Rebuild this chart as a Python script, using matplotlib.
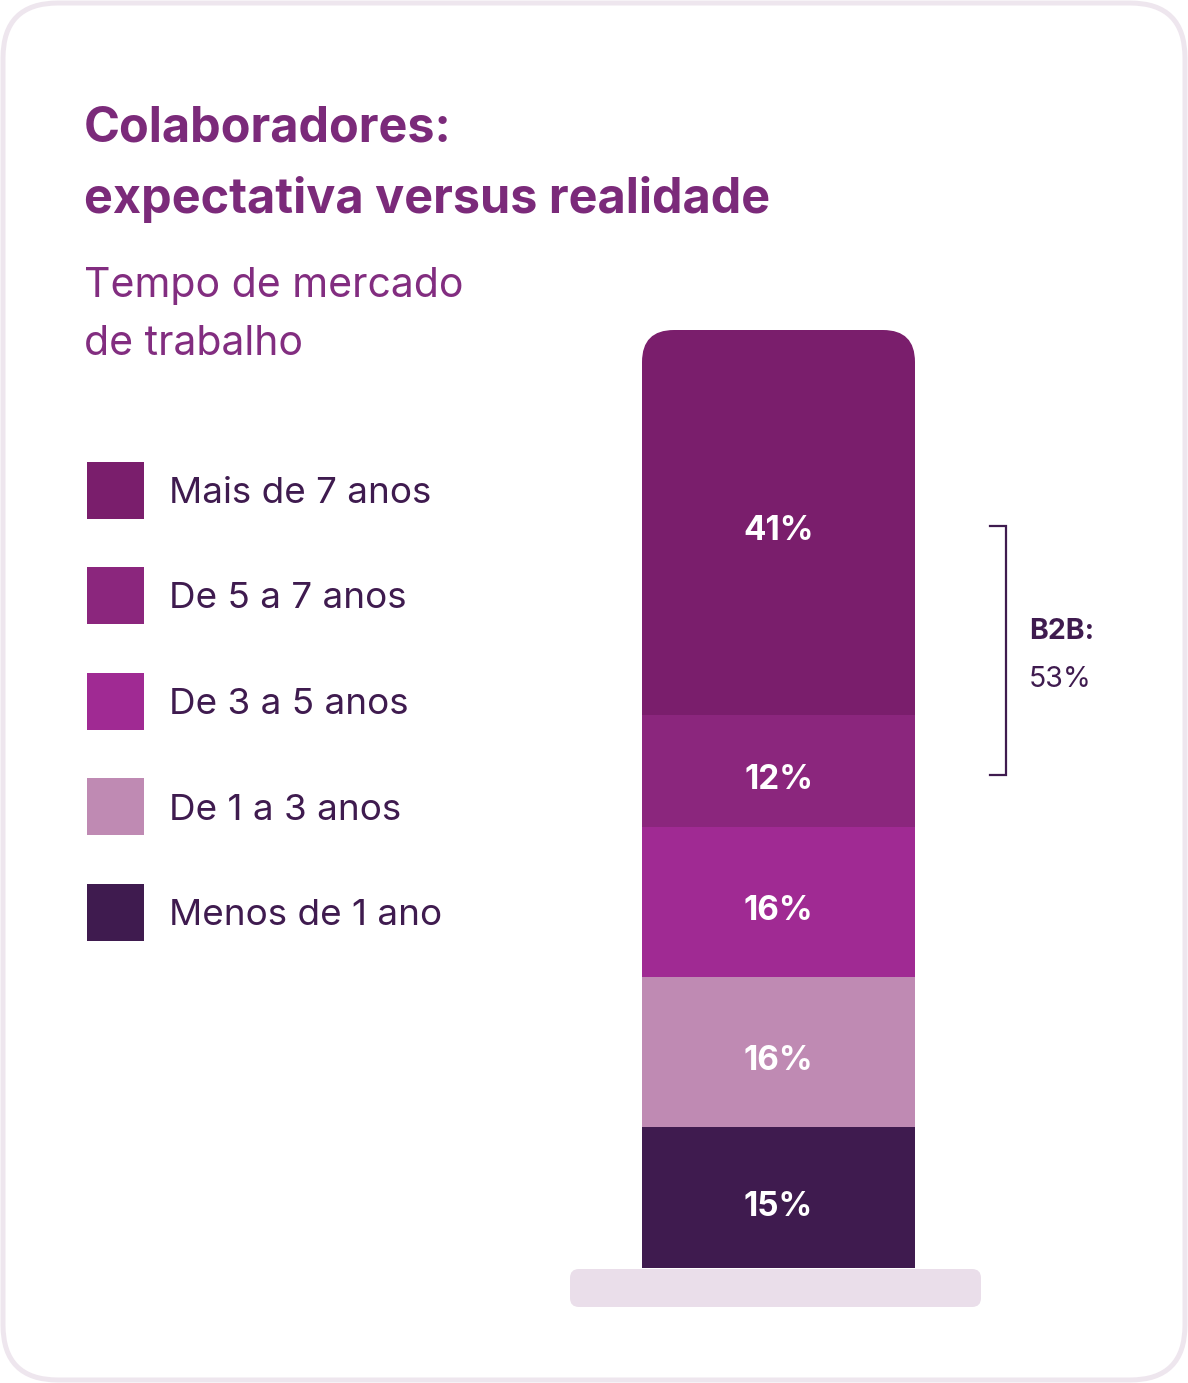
import matplotlib.pyplot as plt
import matplotlib.transforms as mtransforms
from matplotlib.patches import FancyBboxPatch, Rectangle

plt.rcParams['font.family'] = ['Inter', 'DejaVu Sans']

# dados
categorias = ["Menos de 1 ano", "De 1 a 3 anos", "De 3 a 5 anos", "De 5 a 7 anos", "Mais de 7 anos"]
valores = [15, 16, 16, 12, 41]
cores = ["#3F1B4F", "#BF8AB3", "#A02A93", "#8B267D", "#7A1E6C"]
b2b_categorias = ["De 5 a 7 anos", "Mais de 7 anos"]

titulo = ["Colaboradores:", "expectativa versus realidade"]
subtitulo = ["Tempo de mercado", "de trabalho"]

W, H = 1188, 1383
fig = plt.figure(figsize=(W / 100, H / 100), dpi=100)

# fundo em coordenadas de pixel
bg = fig.add_axes([0, 0, 1, 1])
bg.set_xlim(0, W)
bg.set_ylim(H, 0)
bg.axis("off")

card = FancyBboxPatch((3, 3), W - 6, H - 6, boxstyle="round,pad=0,rounding_size=55",
                      fc="white", ec="#EEE6EE", lw=3.6)
bg.add_patch(card)

# titulo e subtitulo
bg.text(84, 141, titulo[0], fontsize=35, fontweight="bold", color="#7B2A7A", va="baseline")
bg.text(84, 213, titulo[1], fontsize=35, fontweight="bold", color="#7B2A7A", va="baseline")
bg.text(84, 297, subtitulo[0], fontsize=29.5, color="#822D80", va="baseline")
bg.text(84, 355, subtitulo[1], fontsize=29.5, color="#822D80", va="baseline")

# legenda (de cima para baixo)
for i, (cat, cor) in enumerate(zip(categorias[::-1], cores[::-1])):
    yc = 490 + i * 105.5
    bg.add_patch(Rectangle((87, yc - 28.5), 57, 57, fc=cor, ec="none"))
    bg.text(169, yc + 13, cat, fontsize=26.5, color="#3F1B4F", va="baseline")

# base da barra
bg.add_patch(FancyBboxPatch((570, 1269), 411, 38, boxstyle="round,pad=0,rounding_size=9",
                            fc="#EADEEA", ec="none"))

# barra empilhada
bx0, bx1, btop, bbot = 642, 915, 330, 1268
ax = fig.add_axes([bx0 / W, (H - bbot) / H, (bx1 - bx0) / W, (bbot - btop) / H])
ax.set_xlim(-0.5, 0.5)
ax.set_ylim(0, sum(valores))
ax.axis("off")

clip = FancyBboxPatch((bx0, btop), bx1 - bx0, 1000, boxstyle="round,pad=0,rounding_size=32",
                      transform=bg.transData)

base = 0
meios = {}
for cat, v, cor in zip(categorias, valores, cores):
    bars = ax.bar(0, v, width=1, bottom=base, color=cor, linewidth=0)
    for b in bars:
        b.set_clip_path(clip)
    meios[cat] = base + v / 2
    ax.annotate(f"{v}%", (0, base + v / 2), xytext=(0, -4), textcoords="offset points",
                ha="center", va="center_baseline", fontsize=24, fontweight="bold", color="white")
    base += v

# chave B2B (ligeiramente abaixo do meio dos segmentos)
tr = mtransforms.blended_transform_factory(bg.transData, ax.transData)
off = mtransforms.ScaledTranslation(0, -4 / 100, fig.dpi_scale_trans)
y_a = meios[b2b_categorias[1]]
y_b = meios[b2b_categorias[0]]
ax.plot([990, 1006, 1006, 990], [y_a, y_a, y_b, y_b], color="#3F1B4F", lw=1.6,
        transform=tr + off, clip_on=False, solid_joinstyle="miter")
b2b_total = sum(v for c, v in zip(categorias, valores) if c in b2b_categorias)
bg.text(1029, 639, "B2B:", fontsize=20.5, fontweight="bold", color="#3F1B4F", va="baseline")
bg.text(1029, 687, f"{b2b_total}%", fontsize=20.5, color="#3F1B4F", va="baseline")

fig.savefig("out.png", dpi=100)
